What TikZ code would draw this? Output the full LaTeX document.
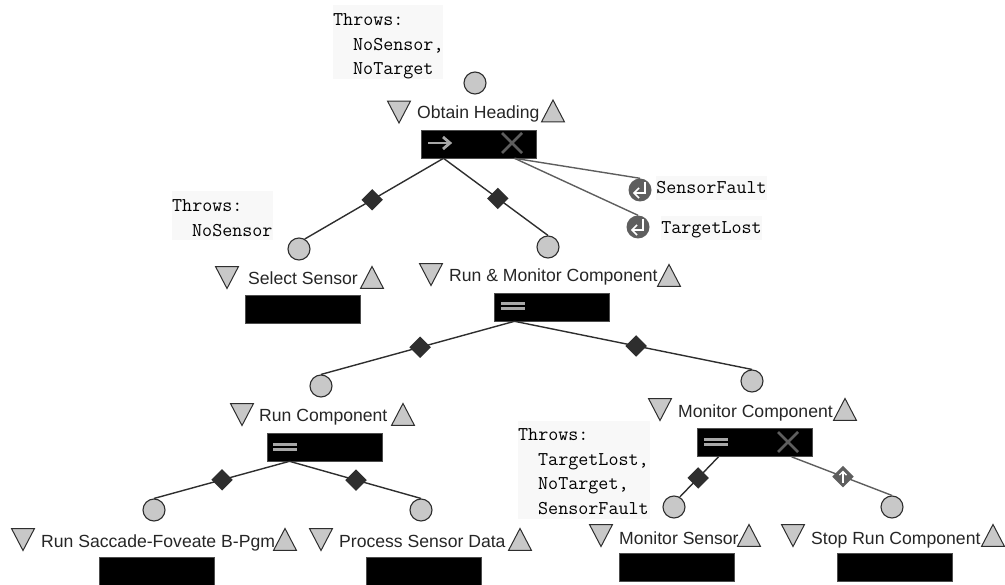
\documentclass[tikz,border=0pt]{standalone}
\usepackage{fontspec}
\setmainfont{Liberation Sans}
\usetikzlibrary{shapes.geometric}
\definecolor{fillgrey}{HTML}{C8C8C8}
\definecolor{edgedark}{HTML}{2E2E2E}
\definecolor{excgrey}{HTML}{5E5E5E}
\definecolor{iconlight}{HTML}{A8A8A8}
\definecolor{noteback}{HTML}{F8F8F8}
\tikzset{
  taskbox/.style={fill=black,draw=black!70,line width=.6pt,minimum width=115pt,minimum height=28pt,inner sep=0pt},
  port/.style={circle,draw=edgedark,fill=fillgrey,line width=1.1pt,minimum size=22pt,inner sep=0pt},
  trid/.style={isosceles triangle,isosceles triangle stretches,shape border rotate=-90,draw=edgedark,fill=fillgrey,line width=1pt,minimum width=23pt,minimum height=22pt,inner sep=0pt,yshift=4.5pt},
  triu/.style={isosceles triangle,isosceles triangle stretches,shape border rotate=90,draw=edgedark,fill=fillgrey,line width=1pt,minimum width=23pt,minimum height=22pt,inner sep=0pt,yshift=-3.5pt},
  tasklabel/.style={anchor=base west,inner sep=0pt,text=black!85,font=\fontsize{17.6}{20}\selectfont},
  note/.style={anchor=north west,fill=noteback,inner sep=0pt,align=left,font=\ttfamily\fontsize{19.5}{24.5}\selectfont},
  exclabel/.style={fill=noteback,inner xsep=0pt,inner ysep=3pt,text height=15pt,text depth=3pt,font=\ttfamily\fontsize{19.5}{22}\selectfont},
  tie/.style={draw=edgedark,line width=1.4pt},
  exctie/.style={draw=excgrey,line width=1.4pt},
  dia/.style={diamond,fill=edgedark,minimum size=22pt,inner sep=0pt},
  diaexc/.style={diamond,fill=excgrey,minimum size=22pt,inner sep=0pt},
  excdot/.style={circle,fill=excgrey,minimum size=23pt,inner sep=0pt},
  icona/.style={draw=iconlight,line width=2.8pt},
  iconx/.style={draw=excgrey,line width=2.6pt},
}
\newcommand{\seqicon}[2]{\draw[icona] (#1-11,#2)--(#1+10,#2);\draw[icona] (#1+4,#2-6)--(#1+11,#2)--(#1+4,#2+6);}
\newcommand{\paricon}[2]{\draw[icona] (#1-12,#2-2.7)--(#1+12,#2-2.7);\draw[icona] (#1-12,#2+2.7)--(#1+12,#2+2.7);}
\newcommand{\xicon}[2]{\draw[iconx] (#1-10,#2-10)--(#1+10,#2+10);\draw[iconx] (#1-10,#2+10)--(#1+10,#2-10);}
\newcommand{\reticon}[1]{\draw[white,line width=2pt] ([shift={(5pt,8pt)}]#1.center)--([shift={(5pt,-3pt)}]#1.center)--([shift={(-6pt,-3pt)}]#1.center);\draw[white,line width=1.6pt] ([shift={(-1pt,2pt)}]#1.center)--([shift={(-6pt,-3pt)}]#1.center)--([shift={(-1pt,-8pt)}]#1.center);}
\begin{document}
\begin{tikzpicture}[x=1pt,y=-1pt]
\useasboundingbox (0,0) rectangle (1005,585);
% notes
\node[note,minimum width=110pt,minimum height=74pt,text width=110pt] (n1) at (333,5) {\rule{0pt}{20.5pt}Throws:\\\hspace*{20pt}NoSensor,\\\hspace*{20pt}NoTarget};
\node[note,minimum width=101pt,minimum height=49pt,text width=101pt] (n2) at (172,191) {\rule{0pt}{17pt}Throws:\\\hspace*{20pt}NoSensor};
\node[note,minimum width=132pt,minimum height=98pt,text width=132pt] (n3) at (518,421) {\rule{0pt}{15pt}Throws:\\\hspace*{20pt}TargetLost,\\\hspace*{20pt}NoTarget,\\\hspace*{20pt}SensorFault};
% boxes
\node[taskbox] (b1) at (478.5,144) {};
\node[taskbox] (b2) at (302.5,309.5) {};
\node[taskbox] (b3) at (551.5,307) {};
\node[taskbox] (b4) at (324.5,447) {};
\node[taskbox] (b5) at (754.5,442.5) {};
\node[taskbox] (b6) at (156.5,571) {};
\node[taskbox] (b7) at (423.5,571) {};
\node[taskbox] (b8) at (676.5,567.5) {};
\node[taskbox] (b9) at (894.5,567.5) {};
% ports
\node[port] (p1) at (475,83) {};
\node[port] (p2) at (299,249) {};
\node[port] (p3) at (548,247) {};
\node[port] (p4) at (321,386) {};
\node[port] (p5) at (752,381) {};
\node[port] (p6) at (154,510) {};
\node[port] (p7) at (421,510) {};
\node[port] (p8) at (674,507) {};
\node[port] (p9) at (892,507) {};
% triangles
\node[trid] (d1) at (399,112.5) {}; \node[triu] (u1) at (553,111.5) {};
\node[trid] (d2) at (227,278) {}; \node[triu] (u2) at (372,278) {};
\node[trid] (d3) at (431,275) {}; \node[triu] (u3) at (669,276) {};
\node[trid] (d4) at (242,415) {}; \node[triu] (u4) at (403,415) {};
\node[trid] (d5) at (660,410) {}; \node[triu] (u5) at (845,410) {};
\node[trid] (d6) at (23,540) {}; \node[triu] (u6) at (285,540) {};
\node[trid] (d7) at (321,540) {}; \node[triu] (u7) at (520,540) {};
\node[trid] (d8) at (601,536) {}; \node[triu] (u8) at (749,536) {};
\node[trid] (d9) at (793,536) {}; \node[triu] (u9) at (993,536) {};
% labels
\node[tasklabel] (t1) at (417,119) {Obtain Heading};
\node[tasklabel] (t2) at (248,285) {Select Sensor};
\node[tasklabel] (t3) at (449,282) {Run \& Monitor Component};
\node[tasklabel] (t4) at (259,422) {Run Component};
\node[tasklabel] (t5) at (678,418) {Monitor Component};
\node[tasklabel] (t6) at (41,547) {Run Saccade-Foveate B-Pgm};
\node[tasklabel] (t7) at (339,547) {Process Sensor Data};
\node[tasklabel] (t8) at (619,544) {Monitor Sensor};
\node[tasklabel] (t9) at (811,544) {Stop Run Component};
% ties
\draw[tie] ([xshift=-35pt]b1.south) -- node[dia,pos=.514] (m1) {} (p2.60);
\draw[tie] ([xshift=-35pt]b1.south) -- node[dia,pos=.52] (m2) {} (p3.north);
\draw[tie] ([xshift=-37pt]b3.south) -- node[dia,pos=.488] (m3) {} (p4.north);
\draw[tie] ([xshift=-37pt]b3.south) -- node[dia,pos=.512] (m4) {} (p5.north);
\draw[tie] ([xshift=-35pt]b4.south) -- node[dia,pos=.498] (m5) {} (p6.north);
\draw[tie] ([xshift=-35pt]b4.south) -- node[dia,pos=.506] (m6) {} (p7.north);
\draw[tie] ([xshift=-36pt]b5.south) -- node[dia,pos=.525] (m7) {} (p8.60);
\draw[exctie] ([xshift=37pt]b5.south) -- node[diaexc,pos=.512] (m8) {} (p9.north);
\draw[white,line width=1.3pt] ([yshift=-6pt]m8.center) -- ([yshift=5pt]m8.center);
\draw[white,line width=1.3pt] ([shift={(-3.5pt,1.5pt)}]m8.center) -- ([yshift=5pt]m8.center) -- ([shift={(3.5pt,1.5pt)}]m8.center);
% exception handlers
\node[excdot] (e1) at (640,190) {};
\node[excdot] (e2) at (638,227) {};
\draw[exctie] ([xshift=36pt]b1.south) -- (e1.north);
\draw[exctie] ([xshift=36pt]b1.south) -- (e2.north);
\reticon{e1}
\reticon{e2}
\node[exclabel,anchor=center] (x1) at (711.5,188) {SensorFault};
\node[exclabel,anchor=center] (x2) at (711.5,228) {TargetLost};
% icons
\seqicon{439}{143}
\xicon{512}{143}
\paricon{513}{306}
\paricon{285}{447}
\paricon{716}{442}
\xicon{788}{442}
\end{tikzpicture}
\end{document}
